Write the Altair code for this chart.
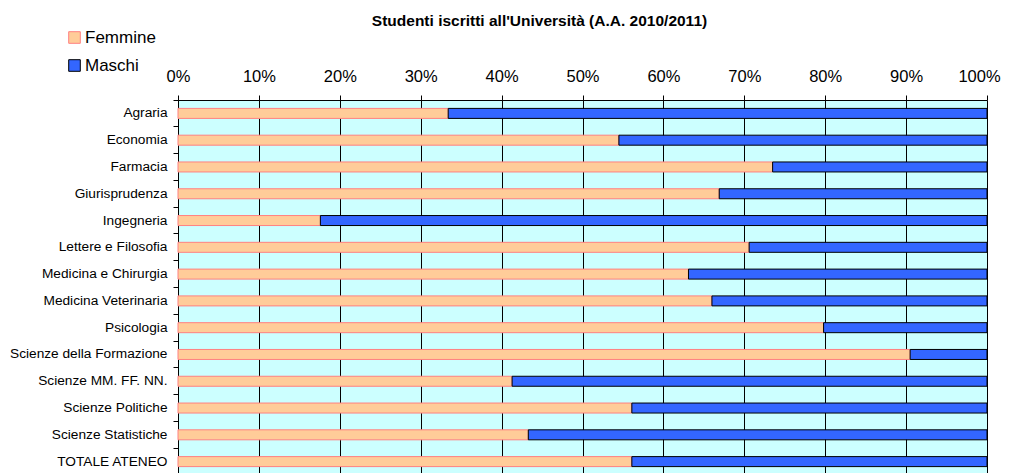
import altair as alt
import pandas as pd

categories = ["Agraria", "Economia", "Farmacia", "Giurisprudenza", "Ingegneria",
              "Lettere e Filosofia", "Medicina e Chirurgia", "Medicina Veterinaria",
              "Psicologia", "Scienze della Formazione", "Scienze MM. FF. NN.",
              "Scienze Politiche", "Scienze Statistiche", "TOTALE ATENEO"]
femmine = [33.4, 54.5, 73.5, 66.9, 17.6, 70.6, 63.1, 66.0, 79.8, 90.5, 41.3, 56.1, 43.3, 56.1]
maschi = [66.6, 45.5, 26.5, 33.1, 82.4, 29.4, 36.9, 34.0, 20.2, 9.5, 58.7, 43.9, 56.7, 43.9]
series = ["Femmine", "Maschi"]
tick_values = [0, 0.1, 0.2, 0.3, 0.4, 0.5, 0.6, 0.7, 0.8, 0.9, 1.0]

rows = []
for c, f, m in zip(categories, femmine, maschi):
    rows.append({"Facoltà": c, "Sesso": "Femmine", "ord": 0, "val": f})
    rows.append({"Facoltà": c, "Sesso": "Maschi", "ord": 1, "val": m})
df = pd.DataFrame(rows)

FONT = "Liberation Sans, Arial, sans-serif"

legend_opts = dict(title=None, orient="none", legendX=-112, legendY=-71,
                   symbolType="square", symbolSize=135, labelFontSize=17,
                   labelFont=FONT, labelColor="black", labelOffset=2,
                   rowPadding=10, padding=0, symbolStrokeWidth=1, symbolOpacity=1)

chart = alt.Chart(df).mark_bar(size=10, strokeWidth=1).encode(
    y=alt.Y("Facoltà:N", sort=categories, title=None,
            scale=alt.Scale(paddingInner=0, paddingOuter=0),
            axis=alt.Axis(orient="left", bandPosition=0, tickSize=5, tickColor="black",
                          domainColor="black", labelColor="black", labelFontSize=13.7,
                          labelFont=FONT, labelPadding=6, labelLimit=300, grid=False)),
    x=alt.X("val:Q", stack="normalize", title=None,
            scale=alt.Scale(domain=[0, 1], nice=False),
            axis=alt.Axis(orient="top", values=tick_values, format=".0%", grid=True,
                          gridColor="black", gridOpacity=1, gridWidth=1,
                          tickColor="black", tickSize=5, domainColor="black",
                          labelColor="black", labelFontSize=16.5, labelFont=FONT,
                          labelPadding=11, labelFlush=False,
                          labelOffset=alt.expr("datum.value == 1 ? -8 : 0"))),
    color=alt.Color("Sesso:N", scale=alt.Scale(domain=series, range=["#FFCC99", "#3366FF"]),
                    legend=alt.Legend(**legend_opts)),
    stroke=alt.Stroke("Sesso:N", scale=alt.Scale(domain=series, range=["#FF8080", "#000000"]),
                      legend=alt.Legend(**legend_opts)),
    order=alt.Order("ord:Q"),
).properties(
    width=809, height=375,
    background="white",
    title=alt.TitleParams("Studenti iscritti all'Università (A.A. 2010/2011)",
                          fontSize=15.5, fontWeight="bold", font=FONT, color="black",
                          anchor="middle", frame="group", dx=-43, offset=0),
    autosize=alt.AutoSizeParams(type="none"),
    padding={"left": 170, "top": 92, "right": 15, "bottom": 0},
).configure_view(fill="#CCFFFF", stroke="transparent")

chart.save("out.html", embed_options={"renderer": "svg", "actions": False})
